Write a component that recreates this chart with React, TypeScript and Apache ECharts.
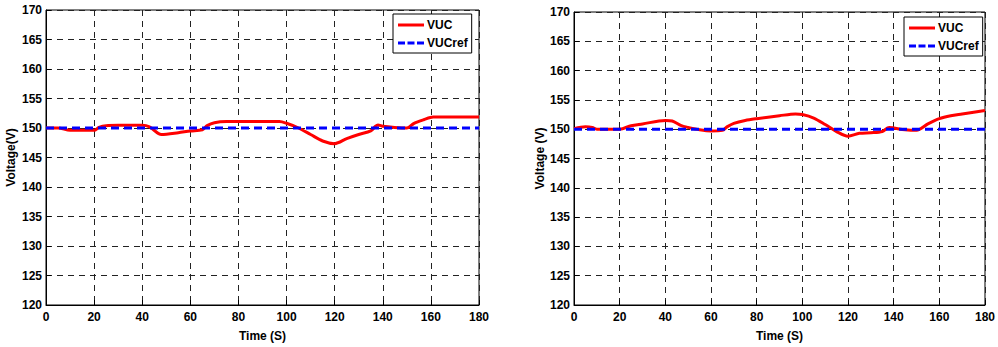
import React, { useEffect, useRef } from "react";
import * as echarts from "echarts";

const xTicks = [0, 20, 40, 60, 80, 100, 120, 140, 160, 180];

const timeLeft = [0, 5, 10, 15, 20, 22, 25, 30, 40, 43, 48, 55, 60, 65, 67, 70, 75, 80, 90, 97, 100, 105, 110, 115, 120, 125, 130, 135, 137, 138, 140, 145, 150, 153, 157, 161, 165, 180];
const vucLeft = [150, 150, 149.6, 149.6, 149.6, 150.1, 150.4, 150.45, 150.45, 150.2, 148.9, 149.2, 149.5, 149.7, 150.4, 150.9, 151.1, 151.1, 151.1, 151.1, 150.8, 150.0, 148.9, 147.8, 147.35, 148.2, 148.9, 149.5, 150.3, 150.5, 150.3, 150.1, 150.0, 150.8, 151.4, 151.85, 151.85, 151.85];

const timeRight = [0, 5, 8, 10, 20, 25, 30, 40, 43, 47, 50, 55, 60, 65, 67, 70, 75, 80, 90, 97, 100, 105, 110, 115, 120, 125, 130, 135, 138, 140, 145, 150, 155, 160, 165, 170, 180];
const vucRight = [150.1, 150.4, 150.3, 150.0, 150.0, 150.6, 150.9, 151.5, 151.4, 150.6, 150.3, 149.9, 149.7, 149.8, 150.4, 151.0, 151.5, 151.8, 152.3, 152.6, 152.5, 151.9, 150.8, 149.6, 148.8, 149.3, 149.4, 149.6, 150.3, 150.2, 149.9, 149.8, 150.9, 151.8, 152.3, 152.6, 153.2];

const refTime = [0, 180];
const refValue = [150, 150];

const yMin = 120;
const yMax = 170;
const yStep = 5;

const FONT = "Liberation Sans, Arial, sans-serif";

const SOLID_ICON = "path://M0,0h26v3h-26z";
const DASH_ICON = "path://M0,0h7v3h-7z M9.5,0h7v3h-7z M19,0h7v3h-7z";

function pairs(xs: number[], ys: number[]) {
  return xs.map((x, i) => [x, ys[i]]);
}

export default function App() {
  const ref = useRef<HTMLDivElement>(null);
  useEffect(() => {
    if (!ref.current) return;
    const chart = echarts.init(ref.current, undefined, { renderer: "svg" });
    const gridLine = { show: true, lineStyle: { color: "#222", type: [6, 5] as any, width: 1 } };
    const label = { color: "#000", fontFamily: FONT, fontWeight: "bold" as const, fontSize: 12 };
    const mkX = (gi: number) => ({
      type: "value" as const,
      gridIndex: gi,
      min: xTicks[0],
      max: xTicks[xTicks.length - 1],
      interval: 20,
      name: "Time (S)",
      nameLocation: "middle" as const,
      nameGap: 25,
      nameTextStyle: { ...label },
      axisLine: { show: true, lineStyle: { color: "#000", width: 1 } },
      axisTick: { show: true, inside: true, length: 5, lineStyle: { color: "#000" } },
      axisLabel: { ...label, margin: 6 },
      splitLine: gridLine,
    });
    const mkY = (gi: number, name: string) => ({
      type: "value" as const,
      gridIndex: gi,
      min: yMin,
      max: yMax,
      interval: yStep,
      name,
      nameLocation: "middle" as const,
      nameGap: gi === 0 ? 29 : 26,
      nameTextStyle: { ...label },
      axisLine: { show: true, lineStyle: { color: "#000", width: 1 } },
      axisTick: { show: true, inside: true, length: 5, lineStyle: { color: "#000" } },
      axisLabel: { ...label, margin: 4 },
      splitLine: gridLine,
    });
    const legendCommon = {
      orient: "vertical" as const,
      backgroundColor: "#fff",
      borderColor: "#000",
      borderWidth: 1,
      borderRadius: 0,
      padding: [5, 4, 4, 5],
      itemGap: 6,
      itemWidth: 26,
      itemHeight: 3,
      textStyle: { ...label, padding: [0, 0, 0, -2] },
      data: [
        { name: "VUC", icon: SOLID_ICON },
        { name: "VUCref", icon: DASH_ICON },
      ],
    };
    chart.setOption({
      animation: false,
      backgroundColor: "#fff",
      grid: [
        { left: 46, top: 10, width: 433, height: 299, show: true, borderColor: "#000", borderWidth: 1, backgroundColor: "transparent" },
        { left: 574, top: 12, width: 411, height: 301, show: true, borderColor: "#000", borderWidth: 1, backgroundColor: "transparent" },
      ],
      xAxis: [mkX(0), mkX(1)],
      yAxis: [mkY(0, "Voltage(V)"), mkY(1, "Voltage (V)")],
      legend: [
        { ...legendCommon, left: 393, top: 14 },
        { ...legendCommon, left: 904, top: 17 },
      ],
      series: [
        {
          name: "VUC", type: "line", xAxisIndex: 0, yAxisIndex: 0, showSymbol: false, symbol: "none",
          smooth: 0.3, data: pairs(timeLeft, vucLeft), lineStyle: { color: "#ff0000", width: 3 }, itemStyle: { color: "#ff0000" }, z: 3,
        },
        {
          name: "VUCref", type: "line", xAxisIndex: 0, yAxisIndex: 0, showSymbol: false, symbol: "none",
          data: pairs(refTime, refValue), lineStyle: { color: "#0000ff", width: 3, type: [8, 5] }, itemStyle: { color: "#0000ff" }, z: 4,
        },
        {
          name: "VUC", type: "line", xAxisIndex: 1, yAxisIndex: 1, showSymbol: false, symbol: "none",
          smooth: 0.3, data: pairs(timeRight, vucRight), lineStyle: { color: "#ff0000", width: 3 }, itemStyle: { color: "#ff0000" }, z: 3,
        },
        {
          name: "VUCref", type: "line", xAxisIndex: 1, yAxisIndex: 1, showSymbol: false, symbol: "none",
          data: pairs(refTime, refValue), lineStyle: { color: "#0000ff", width: 3, type: [8, 5] }, itemStyle: { color: "#0000ff" }, z: 4,
        },
      ],
    });
    return () => chart.dispose();
  }, []);
  return <div ref={ref} style={{ position: "fixed", left: 0, top: 0, width: 998, height: 347 }} />;
}
